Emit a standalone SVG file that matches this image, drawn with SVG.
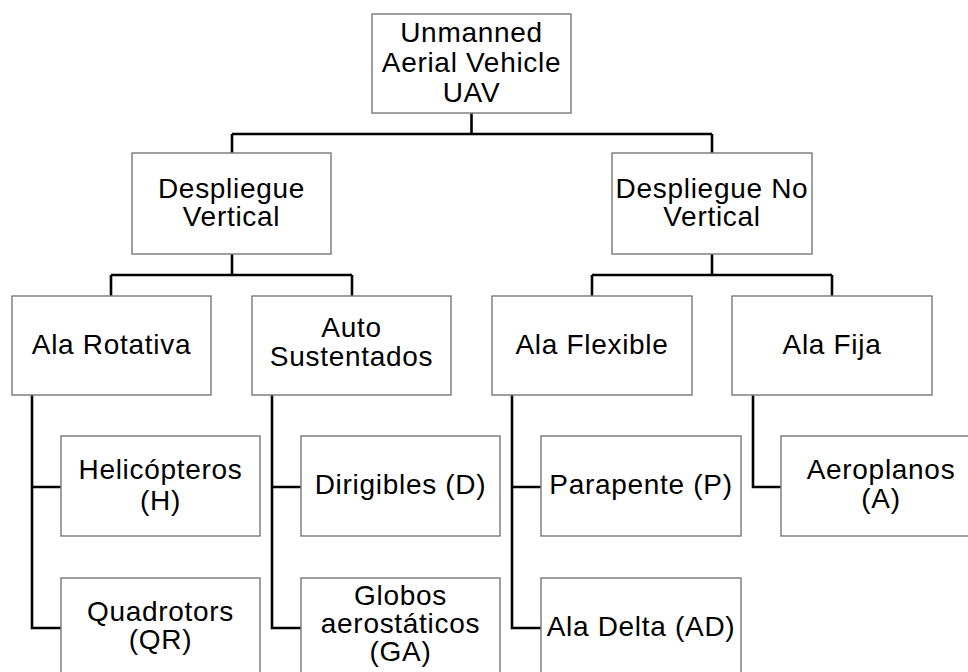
<svg xmlns="http://www.w3.org/2000/svg" width="968" height="672" viewBox="0 0 968 672">
<style>
.box{fill:#fff;stroke:#808080;stroke-width:1.5}
.c{fill:none;stroke:#000;stroke-width:2.6}
text{font-family:"Liberation Sans",Arial,sans-serif;font-size:28px;letter-spacing:0.7px;fill:#000;text-anchor:middle}
</style>
<rect width="968" height="672" fill="#fff"/>
<g id="connectors">
<path class="c" d="M471.5,113 V134 M232,134 H712 M232,134 V153 M712,134 V153"/>
<path class="c" d="M232,254 V275 M111,275 H352 M111,275 V296 M352,275 V296"/>
<path class="c" d="M712,254 V275 M592,275 H832 M592,275 V296 M832,275 V296"/>
<path class="c" d="M32,395 V628 H61 M32,487 H61"/>
<path class="c" d="M272,395 V628 H301 M272,487 H301"/>
<path class="c" d="M512,395 V628 H541 M512,487 H541"/>
<path class="c" d="M753,395 V487 H781"/>
</g>
<g id="uav"><rect class="box" x="372" y="14" width="199" height="99"/><text x="471.5" y="42">Unmanned</text><text x="471.5" y="72">Aerial Vehicle</text><text x="471.5" y="102">UAV</text></g>
<g id="dv"><rect class="box" x="132" y="153" width="199" height="101"/><text x="231.5" y="198">Despliegue</text><text x="231.5" y="226">Vertical</text></g>
<g id="dnv"><rect class="box" x="612" y="153" width="200" height="101"/><text x="712" y="198">Despliegue No</text><text x="712" y="226">Vertical</text></g>
<g id="ar"><rect class="box" x="12" y="296" width="199" height="99"/><text x="111.5" y="354">Ala Rotativa</text></g>
<g id="as"><rect class="box" x="252" y="296" width="199" height="99"/><text x="351.5" y="337">Auto</text><text x="351.5" y="366">Sustentados</text></g>
<g id="af"><rect class="box" x="492" y="296" width="200" height="99"/><text x="592" y="354">Ala Flexible</text></g>
<g id="afi"><rect class="box" x="732" y="296" width="200" height="99"/><text x="832" y="354">Ala Fija</text></g>
<g id="h"><rect class="box" x="61" y="436" width="199" height="100"/><text x="160.5" y="479">Helicópteros</text><text x="160.5" y="510">(H)</text></g>
<g id="qr"><rect class="box" x="61" y="578" width="199" height="100"/><text x="160.5" y="621">Quadrotors</text><text x="160.5" y="649">(QR)</text></g>
<g id="d"><rect class="box" x="301" y="436" width="199" height="100"/><text x="400.5" y="494">Dirigibles (D)</text></g>
<g id="ga"><rect class="box" x="301" y="578" width="199" height="100"/><text x="400.5" y="605">Globos</text><text x="400.5" y="633">aerostáticos</text><text x="400.5" y="661">(GA)</text></g>
<g id="p"><rect class="box" x="541" y="436" width="200" height="100"/><text x="641" y="494">Parapente (P)</text></g>
<g id="ad"><rect class="box" x="541" y="578" width="200" height="100"/><text x="641" y="636">Ala Delta (AD)</text></g>
<g id="a"><rect class="box" x="781" y="436" width="200" height="100"/><text x="881" y="479">Aeroplanos</text><text x="881" y="508">(A)</text></g>
</svg>
